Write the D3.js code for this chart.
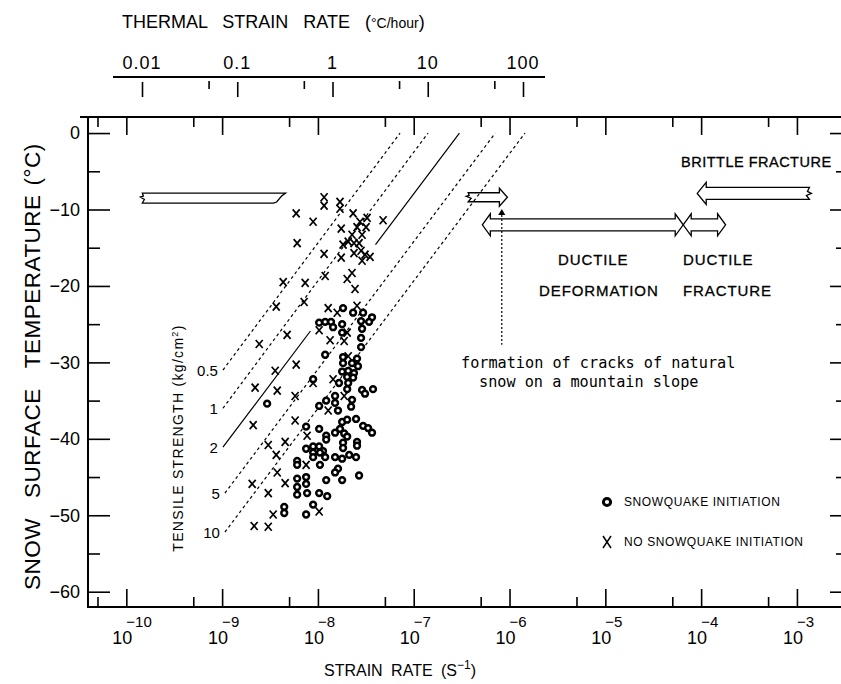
<!DOCTYPE html>
<html>
<head>
<meta charset="utf-8">
<script src="https://cdn.jsdelivr.net/npm/d3@7"></script>
<style>
  body { margin: 0; background: #fff; }
  svg { font-family: "Liberation Sans", Arial, sans-serif; }
  .axis path { display: none; }
  .axis line { stroke: #000; stroke-width: 1.6; }
  .axis text { font-size: 18px; fill: #000; }
</style>
</head>
<body>
<script>
// strain rates are given in units of 1e-8 s^-1, temperatures in degC

// snowquake initiation (circles)
var quakeRate = [1.83, 2.33, 2.96, 3.67, 3.42, 1.03, 1.19, 1.37, 1.44, 1.79, 2.82, 1.79, 2.89, 2.82, 2.82,
  1.19, 1.83, 2.56, 1.83, 2.27, 2.62, 1.79, 2.07, 2.38, 2.02, 2.33, 0.891, 1.66, 2.07, 2.02,
  2.89, 3.10, 3.76, 1.51, 1.51, 1.22, 1.03, 2.27, 2.22, 1.62, 0.295, 0.753, 1.03, 1.79, 2.02,
  2.50, 2.96, 3.34, 3.67, 1.70, 1.51, 1.88, 2.02, 1.22, 1.22, 1.83, 2.56, 2.56, 1.83, 0.753,
  0.891, 1.03, 1.13, 0.891, 1.05, 1.19, 0.891, 0.607, 0.607, 1.05, 1.51, 1.79, 2.12, 2.50,
  1.62, 1.51, 1.22, 1.79, 2.69, 0.607, 0.753, 0.753, 0.607, 0.607, 0.771, 1.03, 1.25, 0.445,
  0.445, 0.891, 0.753];
var quakeTemp = [-22.9, -23.5, -23.5, -24.1, -24.7, -24.8, -24.7, -24.7, -25.4, -25.0, -24.6, -26.1, -25.6, -26.8, -28.0,
  -29.0, -29.3, -29.5, -30.1, -30.1, -30.5, -31.2, -31.1, -31.4, -31.9, -32.0, -32.2, -32.7, -32.7, -33.5,
  -33.6, -34.1, -33.5, -34.4, -35.3, -35.0, -35.7, -34.9, -35.8, -36.3, -35.4, -38.4, -38.7, -37.8, -37.5,
  -37.4, -38.3, -38.6, -39.2, -38.7, -39.2, -39.3, -39.7, -39.6, -40.1, -40.5, -40.4, -40.9, -41.2, -41.3,
  -41.0, -41.0, -41.6, -41.8, -41.8, -42.4, -42.4, -42.9, -43.4, -43.4, -42.4, -42.6, -42.1, -42.4,
  -43.9, -44.4, -45.4, -45.4, -44.8, -45.2, -45.0, -45.9, -46.3, -47.3, -47.1, -47.1, -47.5, -48.9,
  -49.7, -48.6, -49.9];

// no snowquake initiation (crosses)
var noQuakeRate = [1.16, 1.16, 1.70, 1.70, 0.593, 0.891, 2.33, 2.75, 3.26, 4.79, 2.56, 3.18, 1.75, 2.27, 2.89,
  0.607, 1.83, 2.07, 2.38, 2.69, 2.38, 2.82, 3.10, 3.50, 2.89, 1.16, 1.75, 0.434, 0.736, 1.19,
  2.02, 2.27, 2.44, 0.367, 0.718, 1.28, 1.59, 2.56, 1.03, 2.02, 0.477, 0.244, 1.34, 1.88, 2.07,
  0.593, 0.358, 0.221, 0.376, 0.891, 1.44, 0.578, 1.88, 1.28, 0.211, 0.578, 0.771, 0.303, 0.455,
  0.367, 0.753, 0.376, 0.206, 0.455, 0.303, 0.341, 0.216, 0.303, 1.03];
var noQuakeTemp = [-8.4, -9.5, -9.0, -9.9, -10.5, -11.6, -10.5, -11.6, -11.1, -11.4, -12.3, -12.3, -12.5, -13.3, -13.3,
  -14.4, -14.6, -14.2, -14.4, -14.4, -15.7, -15.4, -15.9, -16.2, -16.7, -15.8, -16.3, -19.5, -19.6, -18.7,
  -19.1, -18.3, -20.4, -22.7, -22.1, -22.9, -23.5, -22.6, -25.8, -26.1, -26.4, -27.6, -27.1, -27.2, -29.2,
  -30.3, -31.1, -33.3, -33.7, -32.7, -32.2, -34.4, -34.4, -36.3, -38.2, -37.6, -39.6, -40.8, -40.4,
  -42.1, -43.4, -44.4, -45.9, -45.8, -47.1, -49.9, -51.4, -51.5, -49.5];

// tensile strength lines (kg/cm2): lower end, upper end at 0 degC
var strengthLabels = ["0.5", "1", "2", "5", "10"];
var strengthStartRate = [1.02e-9, 1.02e-9, 1.02e-9, 1.07e-9, 1.07e-9];
var strengthStartTemp = [-31.0, -36.0, -41.1, -47.1, -52.2];
var strengthEndRate = [7.2e-8, 1.41e-7, 3.0e-7, 7.1e-7, 1.45e-6];
var strengthEndTemp = [0, 0, 0, 0, 0];

// axis ticks
var yMajor = [0, -10, -20, -30, -40, -50, -60];
var yMinor = [-5, -15, -25, -35, -45, -55];
var xMajorExp = [-10, -9, -8, -7, -6, -5, -4, -3];
var thermalTicks = [0.01, 0.1, 1, 10, 100];
var thermalLabels = ["0.01", "0.1", "1", "10", "100"];
var thermalMinor = [0.05, 0.5, 5, 50];

var width = 841, height = 684;
var pLeft = 88, pRight = 841, pTop = 117, pBottom = 607;

var svg = d3.select("body").append("svg")
    .attr("width", width)
    .attr("height", height);

var x = d3.scaleLog()
    .domain([Math.pow(10, -10.4), Math.pow(10, -2.54)])
    .range([pLeft, pRight]);
var y = d3.scaleLinear()
    .domain([2.1, -62])
    .range([pTop, pBottom]);
var xTherm = d3.scaleLog()
    .domain([0.01, 100])
    .range([142, 523]);

var xMajor = xMajorExp.map(e => Math.pow(10, e));
var xMinor = xMajorExp.map(e => 5 * Math.pow(10, e - 1));

// frame
svg.append("path")
    .attr("d", "M80," + pTop + "H" + pRight + "M" + pLeft + "," + pTop + "V" + pBottom + "H" + pRight)
    .attr("fill", "none")
    .attr("stroke", "#000")
    .attr("stroke-width", 2);

function tickAxis(axis, tx, ty) {
    svg.append("g").attr("class", "axis")
        .attr("transform", "translate(" + tx + "," + ty + ")")
        .call(axis);
}

// bottom and top frame ticks (pointing inward)
tickAxis(d3.axisBottom(x).tickValues(xMajor).tickSize(-18).tickFormat(""), 0, pBottom);
tickAxis(d3.axisBottom(x).tickValues(xMinor).tickSize(-10).tickFormat(""), 0, pBottom);
tickAxis(d3.axisTop(x).tickValues(xMajor).tickSize(-18).tickFormat(""), 0, pTop);
tickAxis(d3.axisTop(x).tickValues(xMinor).tickSize(-10).tickFormat(""), 0, pTop);

// left and right ticks
tickAxis(d3.axisLeft(y).tickValues(yMajor).tickSize(-22).tickPadding(8)
    .tickFormat(d => d === 0 ? "0" : "\u2212" + Math.abs(d)), pLeft, 0);
tickAxis(d3.axisLeft(y).tickValues(yMinor).tickSize(-12).tickFormat(""), pLeft, 0);
tickAxis(d3.axisRight(y).tickValues(yMajor).tickSize(-11).tickFormat(""), pRight, 0);
tickAxis(d3.axisRight(y).tickValues(yMinor).tickSize(-5).tickFormat(""), pRight, 0);

// bottom tick labels 10^n
var xl = svg.append("g").selectAll("g")
    .data(xMajorExp)
    .enter().append("g")
    .attr("transform", d => "translate(" + x(Math.pow(10, d)) + ",0)");
xl.append("text")
    .attr("x", 6).attr("y", 644)
    .attr("text-anchor", "end")
    .attr("font-size", 18)
    .text("10");
xl.append("text")
    .attr("x", 0).attr("y", 627)
    .attr("font-size", 15)
    .text(d => "\u2212" + Math.abs(d));

// bottom title
var bt = svg.append("text")
    .attr("x", 400).attr("y", 676)
    .attr("text-anchor", "middle")
    .attr("font-size", 16)
    .attr("word-spacing", 4);
bt.append("tspan").text("STRAIN RATE (S");
bt.append("tspan").attr("font-size", 12).attr("dy", -7).text("\u22121");
bt.append("tspan").attr("dy", 7).text(")");

// left title, read bottom to top
var lt = svg.append("text")
    .attr("transform", "translate(40,590) rotate(-90)")
    .attr("font-size", 22.5)
    .attr("letter-spacing", 0.5);
lt.append("tspan").text("SNOW");
lt.append("tspan").attr("dx", 20).text("SURFACE");
lt.append("tspan").attr("dx", 20).text("TEMPERATURE");
lt.append("tspan").attr("dx", 9).text("(\u00b0C)");

// thermal strain rate axis on top
svg.append("line")
    .attr("x1", 113).attr("x2", 545)
    .attr("y1", 77).attr("y2", 77)
    .attr("stroke", "#000").attr("stroke-width", 2);
tickAxis(d3.axisBottom(xTherm).tickValues(thermalTicks).tickSize(15).tickFormat(""), 0, 82);
tickAxis(d3.axisBottom(xTherm).tickValues(thermalMinor).tickSize(8).tickFormat(""), 0, 81);
svg.append("g").selectAll("text")
    .data(thermalTicks)
    .enter().append("text")
    .attr("x", d => xTherm(d))
    .attr("y", 69)
    .attr("text-anchor", "middle")
    .attr("font-size", 18)
    .attr("letter-spacing", 1)
    .text((d, i) => thermalLabels[i]);

var tt = svg.append("text")
    .attr("x", 122).attr("y", 28)
    .attr("font-size", 18)
    .attr("word-spacing", 10);
tt.append("tspan").text("THERMAL STRAIN RATE (");
tt.append("tspan").attr("font-size", 14).attr("word-spacing", 0).text("\u00b0C/hour");
tt.append("tspan").text(")");

// tensile strength lines
var strength = strengthLabels.map((s, i) => ({
    label: s,
    x0: strengthStartRate[i], t0: strengthStartTemp[i],
    x1: strengthEndRate[i], t1: strengthEndTemp[i]
}));
var lines = svg.append("g");
strength.forEach(function (s, i) {
    var p0 = [x(s.x0), y(s.t0)], p1 = [x(s.x1), y(s.t1)];
    if (s.label === "2") {
        // solid line, interrupted where the data points are dense
        var f0 = 0.37, f1 = 0.645;
        var a = [p0[0] + (p1[0] - p0[0]) * f0, p0[1] + (p1[1] - p0[1]) * f0];
        var b = [p0[0] + (p1[0] - p0[0]) * f1, p0[1] + (p1[1] - p0[1]) * f1];
        lines.append("path")
            .attr("d", "M" + p0 + "L" + a + "M" + b + "L" + p1)
            .attr("stroke", "#000").attr("stroke-width", 1.2).attr("fill", "none");
    } else {
        lines.append("line")
            .attr("x1", p0[0]).attr("y1", p0[1])
            .attr("x2", p1[0]).attr("y2", p1[1])
            .attr("stroke", "#000").attr("stroke-width", 1.2)
            .attr("stroke-dasharray", "3,3");
    }
    lines.append("text")
        .attr("x", p0[0] - 5).attr("y", p0[1] + 6)
        .attr("text-anchor", "end")
        .attr("font-size", 15)
        .text(s.label);
});

svg.append("text")
    .attr("transform", "translate(183,438) rotate(-90)")
    .attr("text-anchor", "middle")
    .attr("font-size", 14)
    .attr("letter-spacing", 1.3)
    .html("TENSILE STRENGTH (kg/cm<tspan dy='-5' font-size='9'>2</tspan><tspan dy='5'>)</tspan>");

// data points
var crossPath = "M-3.5,-4L3.5,4M3.5,-4L-3.5,4";
svg.append("g").selectAll("path")
    .data(noQuakeRate.map((r, i) => [r * 1e-8, noQuakeTemp[i]]))
    .enter().append("path")
    .attr("transform", d => "translate(" + x(d[0]) + "," + y(d[1]) + ")")
    .attr("d", crossPath)
    .attr("stroke", "#000").attr("stroke-width", 1.7);

svg.append("g").selectAll("circle")
    .data(quakeRate.map((r, i) => [r * 1e-8, quakeTemp[i]]))
    .enter().append("circle")
    .attr("cx", d => x(d[0]))
    .attr("cy", d => y(d[1]))
    .attr("r", 2.9)
    .attr("fill", "#fff")
    .attr("stroke", "#000").attr("stroke-width", 2.5);

// block arrows (strain rate in s^-1, temperature in degC)
var arrowGeom = [
    {x0: 1.47e-10, x1: 4.6e-9, t: -8.5, hb: 5, hh: 5, hl: 0, kind: "broken"},
    {x0: 3.7e-7, x1: 9.5e-7, t: -8.4, hb: 4.5, hh: 9, hl: 8, kind: "right"},
    {x0: 5.2e-7, x1: 6.5e-5, t: -12.0, hb: 6, hh: 11, hl: 8, kind: "double"},
    {x0: 6.5e-5, x1: 1.8e-4, t: -12.0, hb: 6, hh: 11, hl: 8, kind: "double"},
    {x0: 9.1e-5, x1: 1.35e-3, t: -7.9, hb: 6, hh: 11, hl: 9, kind: "left"}
];

function arrowPath(a) {
    var x0 = x(a.x0), x1 = x(a.x1), yc = y(a.t);
    var t = yc - a.hb, b = yc + a.hb;
    var p = d3.path();
    if (a.kind === "broken") {
        p.moveTo(x0, t); p.lineTo(x1, t);
        p.lineTo(x1 - 4, t + 3); p.lineTo(x1 - 9, b - 1); p.lineTo(x1 - 12, b);
        p.lineTo(x0, b); p.lineTo(x0 + 2, yc + 1.5); p.lineTo(x0 - 2, yc - 1); p.lineTo(x0 + 1, yc - 2);
        p.closePath();
    } else if (a.kind === "right") {
        p.moveTo(x0, t); p.lineTo(x1 - a.hl, t); p.lineTo(x1 - a.hl, yc - a.hh);
        p.lineTo(x1, yc); p.lineTo(x1 - a.hl, yc + a.hh); p.lineTo(x1 - a.hl, b);
        p.lineTo(x0, b); p.lineTo(x0 + 3, yc + 1); p.lineTo(x0 - 2, yc - 1); p.lineTo(x0 + 1, yc - 2);
        p.closePath();
    } else if (a.kind === "left") {
        p.moveTo(x1, t); p.lineTo(x0 + a.hl, t); p.lineTo(x0 + a.hl, yc - a.hh);
        p.lineTo(x0, yc); p.lineTo(x0 + a.hl, yc + a.hh); p.lineTo(x0 + a.hl, b);
        p.lineTo(x1, b); p.lineTo(x1 - 3, yc + 2); p.lineTo(x1 + 2, yc); p.lineTo(x1 - 2, yc - 2);
        p.closePath();
    } else {
        p.moveTo(x0, yc); p.lineTo(x0 + a.hl, yc - a.hh); p.lineTo(x0 + a.hl, t);
        p.lineTo(x1 - a.hl, t); p.lineTo(x1 - a.hl, yc - a.hh); p.lineTo(x1, yc);
        p.lineTo(x1 - a.hl, yc + a.hh); p.lineTo(x1 - a.hl, b); p.lineTo(x0 + a.hl, b);
        p.lineTo(x0 + a.hl, yc + a.hh);
        p.closePath();
    }
    return p.toString();
}

svg.append("g").selectAll("path")
    .data(arrowGeom)
    .enter().append("path")
    .attr("d", arrowPath)
    .attr("fill", "none")
    .attr("stroke", "#000").attr("stroke-width", 1.3)
    .attr("stroke-linejoin", "miter");

// pointer to the natural-snow crack formation
var crackRate = 8.3e-7;
var crackTop = -10.2, crackBottom = -27.7;
svg.append("line")
    .attr("x1", x(crackRate)).attr("x2", x(crackRate))
    .attr("y1", y(crackTop) + 4).attr("y2", y(crackBottom))
    .attr("stroke", "#000").attr("stroke-width", 1.2)
    .attr("stroke-dasharray", "2,2");
svg.append("path")
    .attr("d", d3.symbol(d3.symbolTriangle, 22)())
    .attr("transform", "translate(" + x(crackRate) + "," + (y(crackTop) + 2) + ")")
    .attr("fill", "#000");

var mono = svg.append("g")
    .attr("font-family", "'DejaVu Sans Mono', 'Liberation Mono', monospace")
    .attr("font-size", 15.2);
mono.append("text").attr("x", 461).attr("y", 368).text("formation of cracks of natural");
mono.append("text").attr("x", 479).attr("y", 387).text("snow on a mountain slope");

// regime labels
var regime = svg.append("g")
    .attr("font-size", 15)
    .attr("letter-spacing", 0.9)
    .attr("stroke", "#000").attr("stroke-width", 0.3);
regime.append("text").attr("x", 681).attr("y", 167)
    .attr("font-size", 14.5).attr("letter-spacing", 0.5)
    .text("BRITTLE FRACTURE");
regime.append("text").attr("x", 558).attr("y", 265).text("DUCTILE");
regime.append("text").attr("x", 539).attr("y", 296).text("DEFORMATION");
regime.append("text").attr("x", 683).attr("y", 265).text("DUCTILE");
regime.append("text").attr("x", 683).attr("y", 296).text("FRACTURE");

// legend
var legend = svg.append("g").attr("font-size", 12).attr("letter-spacing", 0.6);
legend.append("circle")
    .attr("cx", 607).attr("cy", 502).attr("r", 3.6)
    .attr("fill", "#fff").attr("stroke", "#000").attr("stroke-width", 3);
legend.append("text").attr("x", 624).attr("y", 506).text("SNOWQUAKE INITIATION");
legend.append("path")
    .attr("transform", "translate(607,542)")
    .attr("d", "M-4,-6L4,6M4,-6L-4,6")
    .attr("stroke", "#000").attr("stroke-width", 1.5);
legend.append("text").attr("x", 624).attr("y", 546).text("NO SNOWQUAKE INITIATION");
</script>
</body>
</html>
